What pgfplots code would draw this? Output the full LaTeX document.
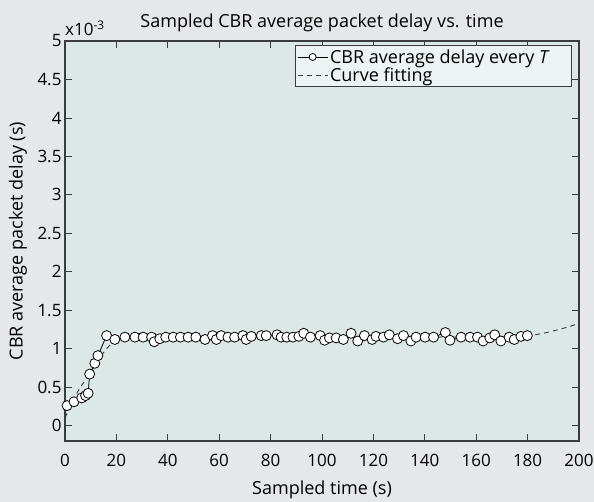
\documentclass[border=0pt]{standalone}
\usepackage{fontspec}
\setmainfont{Open Sans}
\usepackage{pgfplots}
\pgfplotsset{compat=1.18}
\definecolor{pagebg}{RGB}{230,231,232}
\definecolor{axisbg}{RGB}{220,232,229}
\definecolor{legendbg}{RGB}{237,243,242}
\definecolor{axisline}{RGB}{60,60,60}
\newcommand\fs{\fontsize{17bp}{20bp}\selectfont}
\newcommand\fl{\fontsize{18bp}{21bp}\selectfont}

\begin{document}
\begin{tikzpicture}
\fill[pagebg] (-65bp,-61bp) rectangle (529bp,441bp);
\begin{axis}[
  at={(0,0)}, anchor=south west,
  scale only axis, width=514bp, height=400bp,
  xmin=0, xmax=200, ymin=-0.2, ymax=5,
  xtick={0,20,...,200},
  ytick={0,0.5,1,1.5,2,2.5,3,3.5,4,4.5,5},
  tick pos=both, tick align=inside,
  major tick length=7bp,
  every tick/.style={axisline, line width=0.8bp},
  axis line style={axisline, line width=1.2bp},
  axis background/.style={fill=axisbg},
  /pgf/number format/assume math mode=true,
  ticklabel style={font=\fs},
  xticklabel style={yshift=-10bp},
  xlabel={Sampled time (s)},
  ylabel={CBR average packet delay (s)},
  label style={font=\fl},
  xlabel style={at={(axis description cs:0.5,-0.1225)}, anchor=center},
  ylabel style={at={(axis description cs:-0.0914,0.5)}, anchor=center},
  legend style={at={(axis description cs:1,1)}, anchor=north east,
    xshift=-7bp, yshift=-4bp, fill=legendbg, draw=axisline,
    line width=0.8bp, font=\fl, inner sep=2bp, row sep=-1bp},
  legend cell align=left,
]
% fitted curve, drawn below the samples
\addplot[axisline, line width=0.9bp, dash pattern=on 5bp off 4bp, smooth, forget plot]
  coordinates {(0,0.10) (3,0.32) (6,0.50) (9,0.64) (12,0.80) (15,0.95)
    (18,1.06) (22,1.12) (28,1.15) (60,1.15) (100,1.15) (140,1.15)
    (170,1.155) (180,1.17) (186,1.20) (191,1.24) (196,1.285) (200,1.33)};

\addplot[black, line width=0.8bp, mark=*, mark size=5bp,
  mark options={fill=white, draw=black, line width=0.8bp},
  legend image code/.code={
    \draw[black, line width=0.8bp] (0bp,0bp) -- (30bp,0bp);
    \draw[black, fill=white, line width=0.8bp] (15bp,0bp) circle (3.5bp);}]
  coordinates {(0.8,0.26) (3.5,0.31) (6.5,0.36) (8,0.39) (9,0.42)
    (9.6,0.67) (11.6,0.81) (12.8,0.91) (16.2,1.17) (19.4,1.12)
    (23.3,1.15) (27.2,1.15) (30.4,1.15) (33.7,1.15) (34.7,1.09)
    (36.9,1.13) (39.2,1.15) (42.1,1.15) (44.9,1.15) (47.9,1.15)
    (50.9,1.15) (54.5,1.12) (57.4,1.17) (58.9,1.12) (60.8,1.17)
    (63.4,1.15) (66.0,1.15) (69.2,1.17) (70.5,1.12) (72.5,1.16)
    (76.4,1.17) (78.3,1.17) (82.5,1.18) (84.1,1.15) (86.3,1.15)
    (88.7,1.15) (91.0,1.16) (92.9,1.20) (95.5,1.15) (99.3,1.17)
    (101.0,1.11) (102.9,1.14) (105.5,1.14) (108.3,1.12) (111.3,1.20)
    (113.9,1.10) (116.5,1.17) (119.5,1.12) (121.0,1.16) (123.9,1.15)
    (126.2,1.18) (129.4,1.13) (131.7,1.17) (134.6,1.10) (136.6,1.15)
    (140.1,1.15) (143.4,1.15) (148.0,1.21) (149.8,1.11) (154.1,1.15)
    (157.6,1.15) (160.5,1.15) (162.7,1.10) (165.3,1.14) (167.2,1.18)
    (169.6,1.10) (172.8,1.15) (174.8,1.12) (177.4,1.16) (179.9,1.17)};
\addlegendentry{CBR average delay every \textit{T}\hspace*{18bp}}

\addlegendimage{legend image code/.code={
  \draw[axisline, line width=0.9bp, dash pattern=on 5bp off 4bp] (0bp,0bp) -- (30bp,0bp);}}
\addlegendentry{Curve fitting}
\end{axis}
% title and axis multiplier, outside the clipped axis area
\node[anchor=base, font=\fl] at (257bp,413bp) {Sampled CBR average packet delay vs. time};
\node[anchor=base west, font=\fs, inner sep=0pt] at (0bp,405bp) {x10\textsuperscript{-3}};
\pgfresetboundingbox
\path (-65bp,-61bp) rectangle (529bp,441bp);
\end{tikzpicture}
\end{document}
